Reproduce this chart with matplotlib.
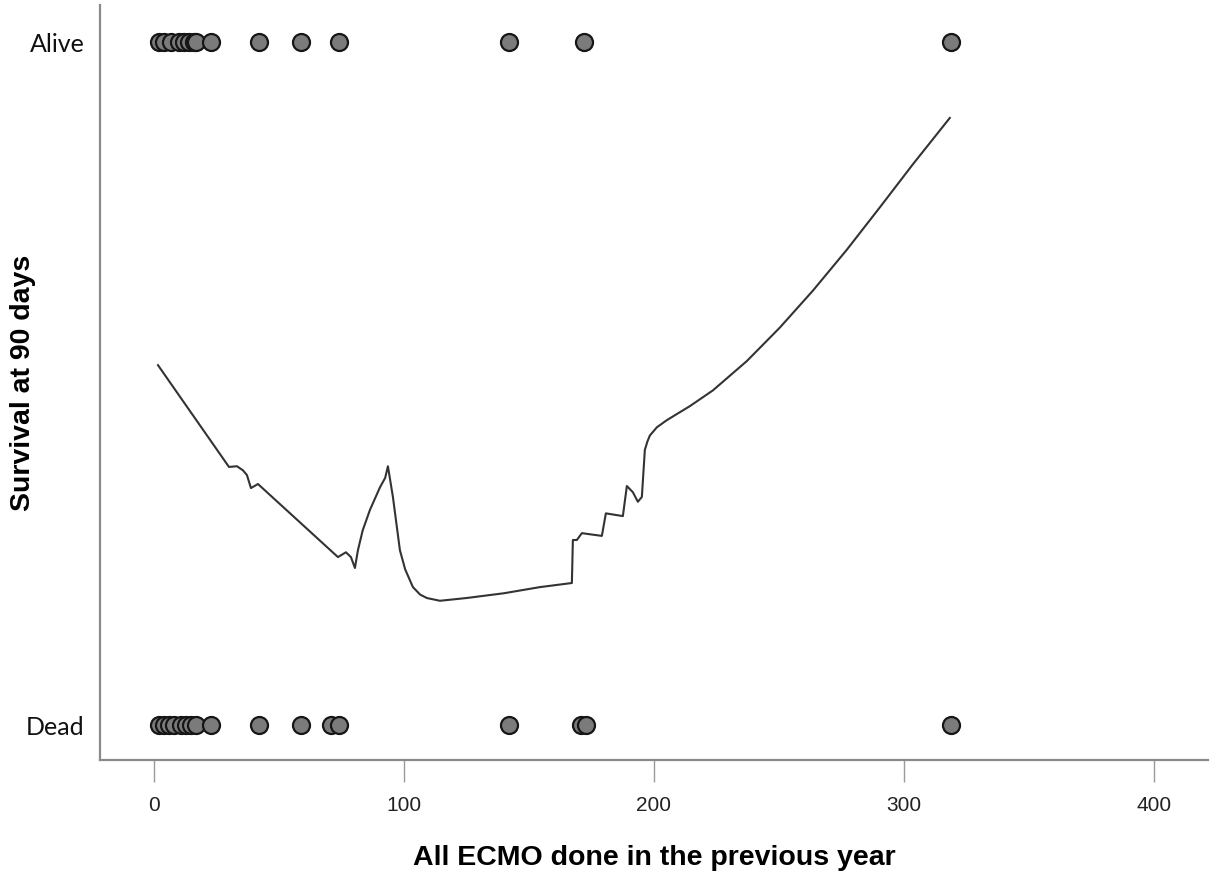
import matplotlib
matplotlib.use("Agg")
import matplotlib.pyplot as plt

# --- Data ---
# ECMO volume of each centre (x) split by 90-day outcome (1 = Alive, 0 = Dead)
ALIVE_X = [2, 4, 7, 10, 12, 14, 16, 17, 23, 42, 59, 74, 142, 172, 319]
DEAD_X = [2, 4, 6, 8, 11, 13, 15, 17, 23, 42, 59, 71, 74, 142, 171, 173, 319]

# fitted (loess-like) line
FIT_X = [1.6, 30.0, 33.2, 35.6, 37.2, 38.8, 41.6, 73.6, 76.8, 78.8, 80.4,
         81.6, 83.5, 86.4, 90.4, 92.5, 93.6, 95.6, 98.4, 100.5, 103.6, 106.5,
         109.2, 114.4, 125.0, 140.0, 154.4, 167.2, 167.6, 169.2, 171.2, 179.2,
         180.8, 187.6, 189.2, 191.6, 193.6, 195.2, 196.4, 197.4, 198.4, 201.2,
         205.0, 209.0, 214.4, 223.6, 237.2, 250.4, 263.6, 277.2, 290.4, 303.6,
         318.4]
FIT_Y = [0.527, 0.378, 0.379, 0.373, 0.366, 0.347, 0.353, 0.246, 0.253, 0.246,
         0.230, 0.256, 0.285, 0.315, 0.348, 0.362, 0.379, 0.334, 0.256, 0.228,
         0.202, 0.191, 0.186, 0.182, 0.186, 0.193, 0.202, 0.208, 0.271, 0.271,
         0.281, 0.277, 0.310, 0.306, 0.350, 0.341, 0.327, 0.334, 0.403, 0.415,
         0.424, 0.436, 0.446, 0.455, 0.467, 0.490, 0.533, 0.582, 0.636, 0.696,
         0.758, 0.821, 0.889]

X_TICKS = [0, 100, 200, 300, 400]
Y_TICKS = [0, 1]
Y_TICK_LABELS = ["Dead", "Alive"]

fig = plt.figure(figsize=(12.15, 8.82), dpi=100)
ax = fig.add_axes([0.0823, 0.1383, 0.9117, 0.8557])

ax.scatter(ALIVE_X, [1] * len(ALIVE_X), s=150, facecolor="#7b7b7b",
           edgecolor="#161616", linewidth=1.6, zorder=3, clip_on=False)
ax.scatter(DEAD_X, [0] * len(DEAD_X), s=150, facecolor="#7b7b7b",
           edgecolor="#161616", linewidth=1.6, zorder=3, clip_on=False)
ax.plot(FIT_X, FIT_Y, color="#333333", linewidth=1.5, zorder=2,
        solid_joinstyle="round")

ax.set_xlim(-21.6, 421.6)
ax.set_ylim(-0.0512, 1.054)

for side in ("top", "right"):
    ax.spines[side].set_visible(False)
for side in ("left", "bottom"):
    ax.spines[side].set_color("#8a8a8a")
    ax.spines[side].set_linewidth(1.6)

ax.set_xticks(X_TICKS)
ax.set_xticklabels([str(t) for t in X_TICKS], family="Liberation Sans",
                   fontsize=15, color="#222222")
ax.tick_params(axis="x", length=16, width=1, color="#9a9a9a", pad=10)

ax.set_yticks(Y_TICKS)
ax.set_yticklabels(Y_TICK_LABELS, family="Lato", fontsize=18, color="#111111")
ax.tick_params(axis="y", length=0, pad=11)

ax.set_xlabel("All ECMO done in the previous year", family="Liberation Sans",
              fontsize=20.5, fontweight="bold")
ax.xaxis.set_label_coords(0.5, -0.112)
ax.set_ylabel("Survival at 90 days", family="Liberation Sans",
              fontsize=20.5, fontweight="bold")
ax.yaxis.set_label_coords(-0.058, 0.5)

fig.savefig("out.png", dpi=100)
